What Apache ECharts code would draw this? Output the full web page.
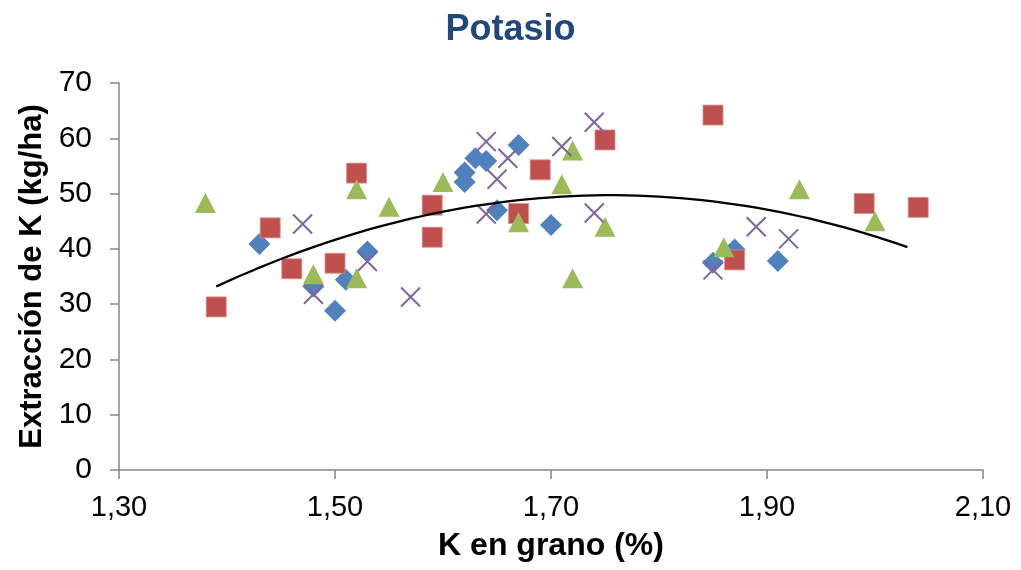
<!DOCTYPE html>
<html><head><meta charset="utf-8">
<script src="https://cdn.jsdelivr.net/npm/echarts@6/dist/echarts.min.js"></script>
<style>html,body{margin:0;padding:0;background:#fff}#c{width:1021px;height:570px}</style>
</head><body><div id="c"></div>
<script>
const chartTitle = 'Potasio';
const xTitle = 'K en grano (%)';
const yTitle = 'Extracción de K (kg/ha)';

const blueX = [1.43, 1.48, 1.50, 1.51, 1.53, 1.62, 1.62, 1.63, 1.64, 1.65, 1.67, 1.70, 1.85, 1.87, 1.91];
const blueY = [40.9, 33.2, 28.8, 34.4, 39.5, 52.1, 53.8, 56.4, 55.9, 47.0, 58.8, 44.3, 37.5, 39.9, 37.8];

const redX = [1.39, 1.44, 1.46, 1.50, 1.52, 1.59, 1.59, 1.67, 1.69, 1.75, 1.85, 1.87, 1.99, 2.04];
const redY = [29.5, 43.8, 36.4, 37.4, 53.7, 47.9, 42.1, 46.4, 54.3, 59.7, 64.2, 38.0, 48.2, 47.5];

const greenX = [1.38, 1.48, 1.52, 1.52, 1.55, 1.60, 1.67, 1.71, 1.72, 1.72, 1.75, 1.86, 1.93, 2.00];
const greenY = [48.3, 35.4, 34.7, 50.8, 47.6, 52.1, 44.8, 51.7, 57.8, 34.7, 44.0, 40.3, 50.8, 45.0];

const purpleX = [1.47, 1.48, 1.53, 1.57, 1.64, 1.64, 1.65, 1.66, 1.71, 1.74, 1.74, 1.85, 1.89, 1.92];
const purpleY = [44.5, 31.8, 37.7, 31.3, 59.4, 46.3, 52.6, 56.4, 58.5, 62.9, 46.5, 36.2, 44.0, 41.8];

// polynomial (order 2) trend line, vertex form: y = a (x - h)^2 + k
const trendA = -124, trendH = 1.755, trendK = 49.7;
const trendRange = [1.39, 2.03];

const xTicks = [1.30, 1.50, 1.70, 1.90, 2.10];
const yTicks = [0, 10, 20, 30, 40, 50, 60, 70];

function pairs(xs, ys) { return xs.map((x, i) => [x, ys[i]]); }
const trendData = [];
for (let i = 0; i <= 64; i++) {
  const x = trendRange[0] + (trendRange[1] - trendRange[0]) * i / 64;
  trendData.push([x, trendA * (x - trendH) * (x - trendH) + trendK]);
}

const FONT = '"Liberation Sans", Arial, sans-serif';
const chart = echarts.init(document.getElementById('c'), null, {renderer: 'canvas'});
chart.setOption({
  animation: false,
  backgroundColor: '#ffffff',
  title: {
    text: chartTitle, left: 'center', top: 7,
    textStyle: {fontFamily: FONT, fontSize: 36, fontWeight: 'bold', color: '#1F497D'}
  },
  grid: {left: 119, right: 38, top: 83, bottom: 100, containLabel: false},
  xAxis: {
    type: 'value', min: xTicks[0], max: xTicks[xTicks.length - 1], interval: 0.2,
    name: xTitle, nameLocation: 'middle', nameGap: 60,
    nameTextStyle: {fontFamily: FONT, fontSize: 32, fontWeight: 'bold', color: '#000'},
    axisLine: {show: true, lineStyle: {color: '#868686', width: 1.5}},
    axisTick: {show: true, length: 9, lineStyle: {color: '#868686', width: 1.5}},
    axisLabel: {margin: 23, fontFamily: FONT, fontSize: 29, color: '#000',
      formatter: v => v.toFixed(2).replace('.', ',')},
    splitLine: {show: false}
  },
  yAxis: {
    type: 'value', min: yTicks[0], max: yTicks[yTicks.length - 1], interval: 10,
    name: yTitle, nameLocation: 'middle', nameGap: 70,
    nameTextStyle: {fontFamily: FONT, fontSize: 31, fontWeight: 'bold', color: '#000'},
    axisLine: {show: true, lineStyle: {color: '#868686', width: 1.5}},
    axisTick: {show: true, length: 9, lineStyle: {color: '#868686', width: 1.5}},
    axisLabel: {margin: 27, fontFamily: FONT, fontSize: 30, color: '#000'},
    splitLine: {show: false}
  },
  series: [
    {name: 'Serie 1', type: 'scatter', data: pairs(blueX, blueY), symbol: 'diamond', symbolSize: 22,
      itemStyle: {color: '#4F81BD', opacity: 1}, z: 2},
    {name: 'Serie 2', type: 'scatter', data: pairs(redX, redY), symbol: 'rect', symbolSize: 20,
      itemStyle: {color: '#C0504D', borderColor: '#D8908E', borderWidth: 0.8, opacity: 1}, z: 3},
    {name: 'Serie 3', type: 'scatter', data: pairs(greenX, greenY), symbol: 'triangle', symbolSize: [21, 20],
      itemStyle: {color: '#9BBB59', opacity: 1}, z: 4},
    {name: 'Serie 4', type: 'scatter', data: pairs(purpleX, purpleY),
      symbol: 'path://M0,0L10,10M10,0L0,10', symbolSize: 19,
      itemStyle: {color: 'rgba(0,0,0,0)', borderColor: '#8064A2', borderWidth: 2, opacity: 1}, z: 5},
    {name: 'Tendencia', type: 'line', data: trendData, showSymbol: false, smooth: false,
      lineStyle: {color: '#000000', width: 2.25}, z: 6, silent: true}
  ]
});
</script></body></html>
